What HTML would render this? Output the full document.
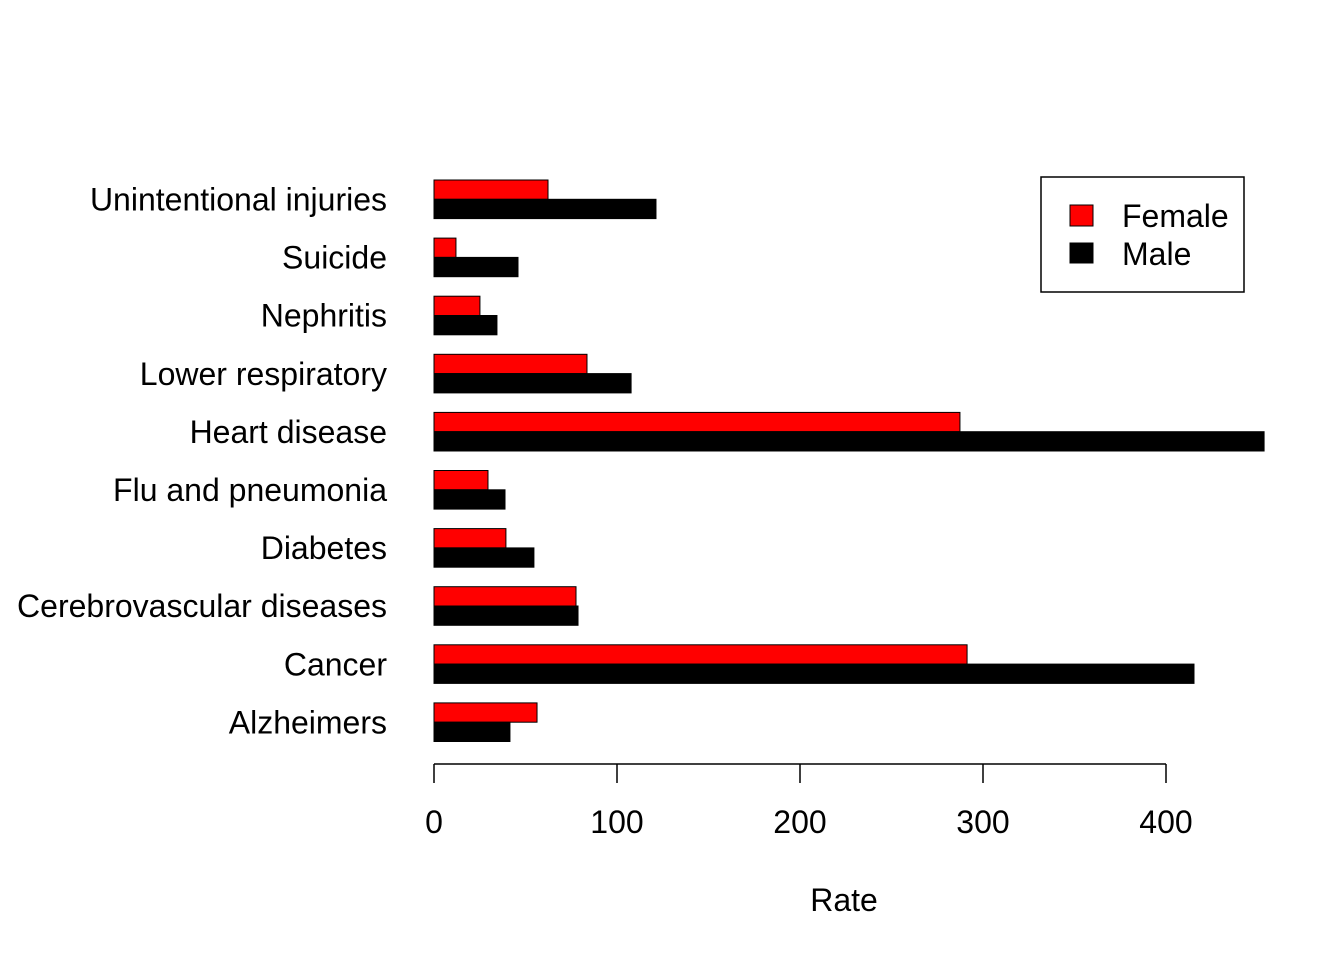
<!DOCTYPE html>
<html><head><meta charset="utf-8"><style>
body{margin:0;background:#fff}
svg text{font-family:"Liberation Sans",Arial,sans-serif;font-size:32px;fill:#000}
</style></head><body>
<svg id="chart" width="1344" height="960" xmlns="http://www.w3.org/2000/svg">
<g id="bars"></g>
<g id="labels"></g>
<g id="axis"></g>
<text x="844" y="911" text-anchor="middle">Rate</text>
<g>
<rect x="1041" y="177" width="203" height="115" fill="#fff" stroke="#000" stroke-width="1.5"/>
<rect x="1070" y="205" width="23" height="21" fill="#ff0000" stroke="#000"/>
<text x="1122" y="227">Female</text>
<rect x="1070" y="243" width="23" height="20" fill="#000" stroke="#000"/>
<text x="1122" y="265">Male</text>
</g>
</svg>
<script>
const categories=["Unintentional injuries","Suicide","Nephritis","Lower respiratory","Heart disease","Flu and pneumonia","Diabetes","Cerebrovascular diseases","Cancer","Alzheimers"];
const female=[62.3,12,25.1,83.6,287.4,29.5,39.3,77.6,291.3,56.3];
const male=[121.3,45.9,34.4,107.7,453.6,38.8,54.6,78.7,415.3,41.5];
const ticks=[0,100,200,300,400];
const NS="http://www.w3.org/2000/svg";
const x=v=>434+v*(1166-434)/400;
const yTop=i=>180+i*58.1;
const bars=document.getElementById('bars'),labels=document.getElementById('labels'),axis=document.getElementById('axis');
function mk(tag,attrs,parent){const e=document.createElementNS(NS,tag);for(const k in attrs)e.setAttribute(k,attrs[k]);parent.appendChild(e);return e;}
categories.forEach((c,i)=>{
 const f=mk('rect',{x:x(0),y:yTop(i),width:x(female[i])-x(0),height:19.3,fill:'#ff0000',stroke:'#000','stroke-width':1},bars);
 
 
 const m=mk('rect',{x:x(0),y:yTop(i)+19.3,width:x(male[i])-x(0),height:19.3,fill:'#000',stroke:'#000','stroke-width':1},bars);
 
 
 const t=mk('text',{x:387,y:yTop(i)+30.5,'text-anchor':'end'},labels);
 t.textContent=c;
 
 
});
const al=mk('line',{x1:x(ticks[0]),x2:x(ticks[ticks.length-1]),y1:764,y2:764,stroke:'#000','stroke-width':1.5},axis);


ticks.forEach(v=>{
 const l=mk('line',{x1:x(v),x2:x(v),y1:764,y2:783,stroke:'#000','stroke-width':1.5},axis);
 
 
 const t=mk('text',{x:x(v),y:833,'text-anchor':'middle'},axis);
 t.textContent=v;
 
 
});
</script>
</body></html>
